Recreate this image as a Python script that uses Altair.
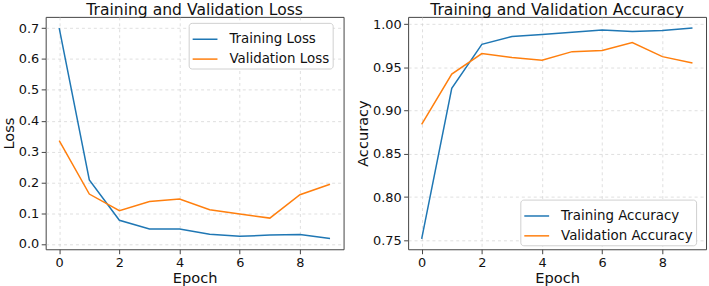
import altair as alt
import pandas as pd

# Per-epoch training history
epochs = [0, 1, 2, 3, 4, 5, 6, 7, 8, 9]
train_loss = [0.700, 0.208, 0.077, 0.049, 0.049, 0.032, 0.025, 0.029, 0.031, 0.018]
val_loss = [0.335, 0.162, 0.108, 0.138, 0.146, 0.111, 0.097, 0.084, 0.160, 0.194]
train_acc = [0.7515, 0.9258, 0.9768, 0.9857, 0.9880, 0.9907, 0.9934, 0.9915, 0.9927, 0.9957]
val_acc = [0.884, 0.9424, 0.966, 0.9614, 0.9583, 0.9683, 0.9695, 0.9787, 0.9625, 0.9552]

BLUE = "#1f77b4"
ORANGE = "#ff7f0e"
FONT = "DejaVu Sans"


def long_table(a, b, name_a, name_b, field):
    rows = []
    for e, v in zip(epochs, a):
        rows.append({"Epoch": e, field: v, "Series": name_a})
    for e, v in zip(epochs, b):
        rows.append({"Epoch": e, field: v, "Series": name_b})
    return pd.DataFrame(rows)


def panel(df, field, names, title, ydomain, yticks, yfmt, lx, ly):
    x = alt.X(
        "Epoch:Q",
        scale=alt.Scale(domain=[-0.45, 9.45], nice=False, zero=False),
        axis=alt.Axis(values=[0, 2, 4, 6, 8], title="Epoch", format="d"),
    )
    y = alt.Y(
        f"{field}:Q",
        scale=alt.Scale(domain=ydomain, nice=False, zero=False),
        axis=alt.Axis(values=yticks, format=yfmt, title=field),
    )
    color = alt.Color(
        "Series:N",
        scale=alt.Scale(domain=names, range=[BLUE, ORANGE]),
        sort=names,
        legend=alt.Legend(
            title=None,
            orient="none",
            legendX=lx,
            legendY=ly,
            symbolType="stroke",
            symbolSize=625,
            symbolStrokeWidth=1.5,
            labelFontSize=13.5,
            labelFont=FONT,
            labelColor="#111",
            fillColor="white",
            strokeColor="#d0d0d0",
            cornerRadius=3,
            padding=3,
            rowPadding=-8,
            labelOffset=11,
        ),
    )
    return (
        alt.Chart(df)
        .mark_line(strokeWidth=1.5)
        .encode(x=x, y=y, color=color)
        .properties(
            width=300,
            height=234,
            title=alt.TitleParams(title, fontSize=15.7, fontWeight="normal", font=FONT, offset=-2, color="#111"),
        )
    )


loss_df = long_table(train_loss, val_loss, "Training Loss", "Validation Loss", "Loss")
acc_df = long_table(train_acc, val_acc, "Training Accuracy", "Validation Accuracy", "Accuracy")

left = panel(
    loss_df, "Loss", ["Training Loss", "Validation Loss"],
    "Training and Validation Loss", [-0.017, 0.7366],
    [0.0, 0.1, 0.2, 0.3, 0.4, 0.5, 0.6, 0.7], ".1f", 144, 6,
)
right = panel(
    acc_df, "Accuracy", ["Training Accuracy", "Validation Accuracy"],
    "Training and Validation Accuracy", [0.7396, 1.0085],
    [0.75, 0.80, 0.85, 0.90, 0.95, 1.00], ".2f", 113, 184,
)

chart = (
    alt.hconcat(left, right, spacing=10)
    .resolve_scale(color="independent")
    .properties(padding={"left": 0, "top": 0, "right": 2, "bottom": 0})
    .configure(font=FONT, background="white")
    .configure_view(stroke="#444", strokeWidth=1)
    .configure_axis(
        labelFont=FONT,
        titleFont=FONT,
        labelFontSize=13,
        titleFontSize=14.7,
        titleFontWeight="normal",
        labelColor="#111",
        titleColor="#111",
        domain=False,
        tickColor="#444",
        tickSize=4.5,
        labelPadding=2.5,
        gridColor="#cccccc",
        gridDash=[3, 3],
        gridOpacity=0.8,
        gridWidth=0.8,
    )
    .configure_axisY(titlePadding=2)
    .configure_axisX(titlePadding=1)
)

chart.save("out.html", embed_options={"renderer": "svg", "actions": False})
